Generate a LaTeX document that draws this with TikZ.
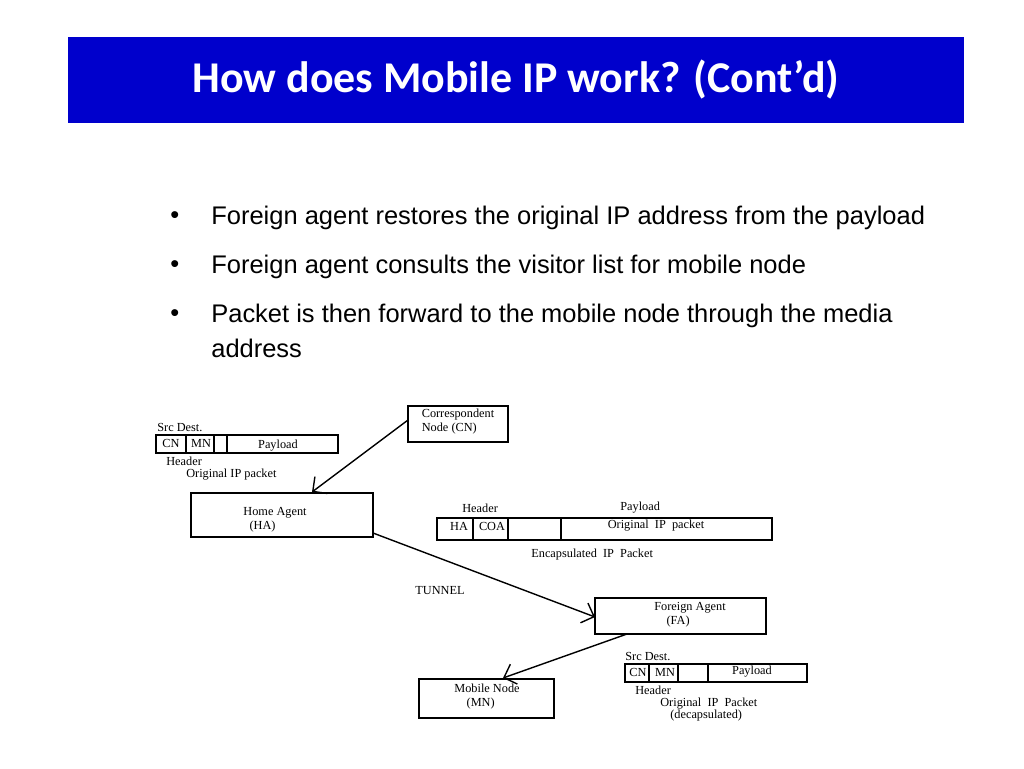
\documentclass[tikz,border=0pt]{standalone}
\usepackage{fontspec}
\setmainfont{Liberation Serif}
\newfontfamily\titlefont{Carlito}
\newfontfamily\bodyfont{Liberation Sans}
\usetikzlibrary{arrows.meta}
\definecolor{titleblue}{RGB}{0,0,204}
\tikzset{
  box/.style={draw,thick,inner sep=0pt},
  small/.style={font=\fontsize{7}{8}\selectfont,inner sep=0pt},
  bullet/.style={font=\bodyfont\fontsize{14.5}{17}\selectfont,anchor=west,inner sep=0pt},
  flow/.style={thick,-{Straight Barb[length=6pt]}}
}
\begin{document}
\begin{tikzpicture}[x=0.02cm,y=-0.02cm]
\useasboundingbox (0,0) rectangle (1024,768);
% title
\fill[titleblue] (68,37) rectangle (964,123);
\node[font=\titlefont\bfseries\fontsize{25}{30}\selectfont,text=white] (title) at (516,80) {How does Mobile IP work? (Cont’d)};
% bullets
\foreach \y/\t in {218/Foreign agent restores the original IP address from the payload,
                   267/Foreign agent consults the visitor list for mobile node,
                   316/Packet is then forward to the mobile node through the media}
  {\node[bullet] at (170,\y) {\textbullet};
   \node[bullet] at (211,\y) {\t};}
\node[bullet] (addr) at (211,348) {address};
% nodes
\draw[box] (408,406) rectangle (508,442);
\node[small,align=left] (cn) at (458,422) {Correspondent\\ Node (CN)};
\coordinate (cnl) at (408,420);
\draw[box] (191,493) rectangle (373,537);
\node[small,align=left] (ha) at (275,520) {Home Agent\\ \ \ (HA)};
\coordinate (hat) at (312,492);
\coordinate (har) at (373,533);
\draw[box] (595,598) rectangle (766,634);
\node[small,align=left] (fa) at (690,615) {Foreign Agent\\ \ \ \ \ (FA)};
\coordinate (fal) at (595,617);
\coordinate (fab) at (627,634);
\draw[box] (419,679) rectangle (554,718);
\node[small,align=left] (mn) at (487,697) {Mobile Node\\ \ \ \ \ (MN)};
\coordinate (mnt) at (503,678);
% packets
\draw[box] (156,435) rectangle (338,453);
\foreach \x in {186,214,227} \draw[thick] (\x,435) -- (\x,453);
\node[small] at (171,443) {CN};
\node[small] at (201,443) {MN};
\node[small] at (278,446) {Payload};
\node[small,anchor=west] at (157,428) {Src Dest.};
\node[small,anchor=west] at (166,461) {Header};
\node[small,anchor=west] at (186,475) {Original IP packet};
\draw[box] (437,518) rectangle (772,540);
\foreach \x in {473,508,561} \draw[thick] (\x,518) -- (\x,540);
\node[small] at (459,526) {HA};
\node[small] at (492,526) {COA};
\node[small] at (656,526) {Original\ \ IP\ \ packet};
\node[small,anchor=west] at (462,508) {Header};
\node[small,anchor=west] at (620,508) {Payload};
\node[small,anchor=west] at (531,555) {Encapsulated\ \ IP\ \ Packet};
\node[small,anchor=west] at (415,591) {TUNNEL};
\draw[box] (625,664) rectangle (807,682);
\foreach \x in {649,678,708} \draw[thick] (\x,664) -- (\x,682);
\node[small] at (638,672) {CN};
\node[small] at (665,672) {MN};
\node[small] at (752,672) {Payload};
\node[small,anchor=west] at (625,657) {Src Dest.};
\node[small,anchor=west] at (635,690) {Header};
\node[small,anchor=west] at (660,704) {Original\ \ IP\ \ Packet};
\node[small,anchor=west] at (670,716) {(decapsulated)};
% connectors
\draw[flow] (cnl) -- (hat);
\draw[flow] (har) -- (fal);
\draw[flow] (fab) -- (mnt);
\end{tikzpicture}
\end{document}
